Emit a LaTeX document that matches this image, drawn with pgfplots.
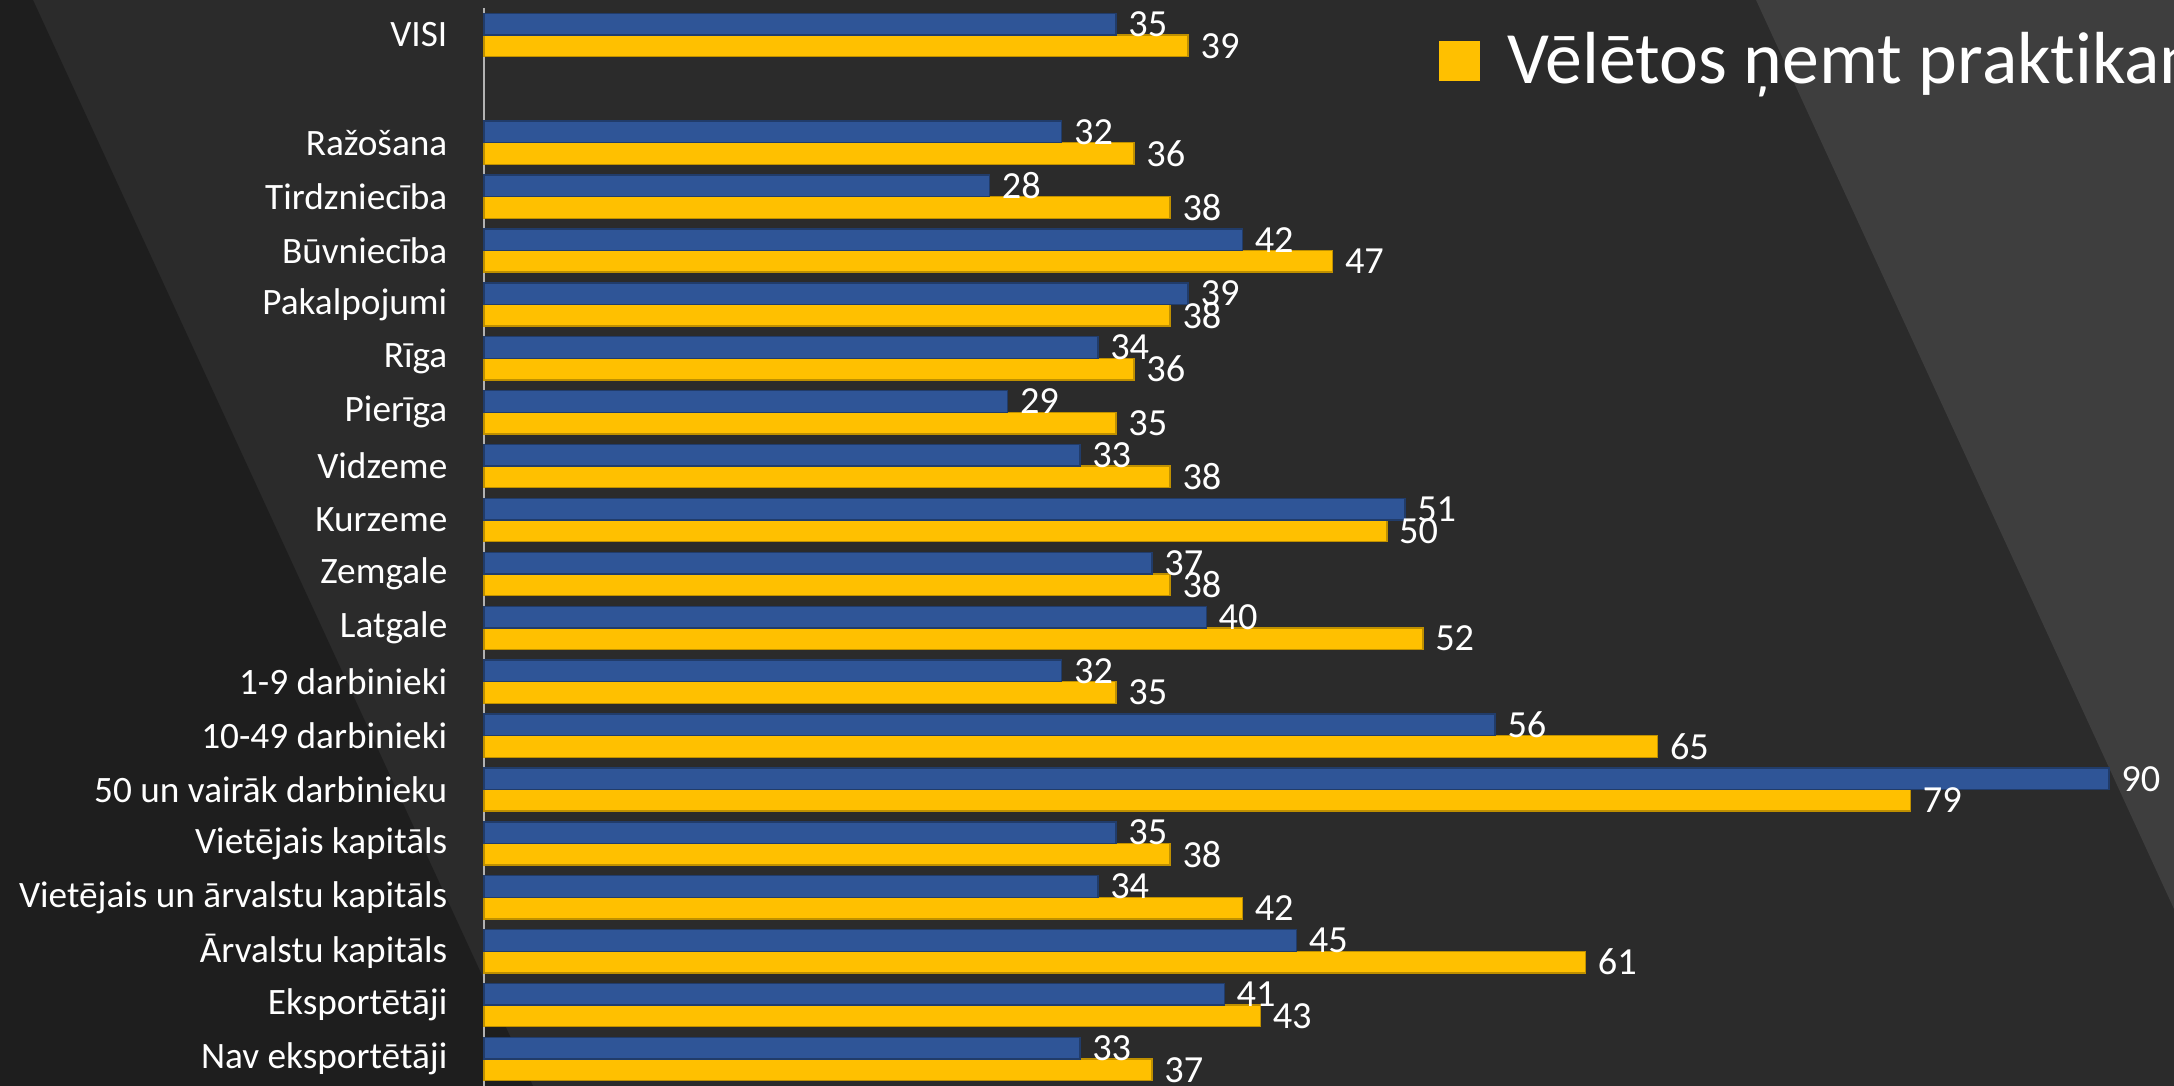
\documentclass[border=0pt]{standalone}
\usepackage{pgfplots}
\pgfplotsset{compat=1.18}
\usepackage{fontspec}
\setmainfont{Carlito}[Ligatures=NoCommon]
\definecolor{bgmain}{HTML}{2B2B2B}
\definecolor{bgdark}{HTML}{1E1E1E}
\definecolor{bglight}{HTML}{3E3E3E}
\definecolor{barblue}{HTML}{2F5597}
\definecolor{baryellow}{HTML}{FFC000}
\begin{document}
\begin{tikzpicture}
\path[use as bounding box, fill=bgmain] (0,0) rectangle (21.74cm,10.86cm);
\fill[bgdark] (0,10.86cm) -- (0.33cm,10.86cm) -- (5.33cm,0) -- (0,0) -- cycle;
\fill[bglight] (17.56cm,10.86cm) -- (21.74cm,10.86cm) -- (21.74cm,1.77cm) -- cycle;
\begin{axis}[
  at={(4.84cm,0cm)}, anchor=south west,
  scale only axis, width=16.9cm, height=10.78cm,
  xbar, clip=false,
  xmin=0, xmax=93.6,
  ymin=-0.5, ymax=19.5, y dir=reverse,
  axis x line=none, axis y line=left,
  y axis line style={-, draw=gray!60, line width=0.8pt},
  ytick={0,2,3,4,5,6,7,8,9,10,11,12,13,14,15,16,17,18,19},
  yticklabels={VISI, Ražošana, Tirdzniecība, Būvniecība, Pakalpojumi, Rīga, Pierīga, Vidzeme, Kurzeme, Zemgale, Latgale, 1-9 darbinieki, 10-49 darbinieki, 50 un vairāk darbinieku, Vietējais kapitāls, Vietējais un ārvalstu kapitāls, Ārvalstu kapitāls, Eksportētāji, Nav eksportētāji},
  major tick length=0pt,
  yticklabel style={font=\fontsize{10.6}{12}\selectfont, text=white, anchor=east, inner sep=0pt, xshift=-0.36cm},
  /pgf/number format/assume math mode=true,
  bar width=0.4,
  nodes near coords,
  every node near coord/.append style={font=\fontsize{10.9}{12}\selectfont, text=white},
  legend style={at={(0.5645,0.951)}, anchor=west, draw=none, fill=none, text=white, font=\fontsize{21}{24}\selectfont, inner sep=0pt, legend cell align=left},
  legend image code/.code={\fill[baryellow] (0cm,-0.19cm) rectangle (0.40cm,0.19cm);},
]
\addplot[fill=baryellow, draw=baryellow!75!black, line width=0.4pt, bar shift=0.2] coordinates {
(39,0) (36,2) (38,3) (47,4) (38,5) (36,6) (35,7) (38,8) (50,9) (38,10) (52,11) (35,12) (65,13) (79,14) (38,15) (42,16) (61,17) (43,18) (37,19)};
\addlegendentry{\hspace{0.2cm}Vēlētos ņemt praktikantus}
\addplot[fill=barblue, draw=barblue!70!black, line width=0.4pt, bar shift=-0.2] coordinates {
(35,0) (32,2) (28,3) (42,4) (39,5) (34,6) (29,7) (33,8) (51,9) (37,10) (40,11) (32,12) (56,13) (90,14) (35,15) (34,16) (45,17) (41,18) (33,19)};
\end{axis}
\end{tikzpicture}
\end{document}
